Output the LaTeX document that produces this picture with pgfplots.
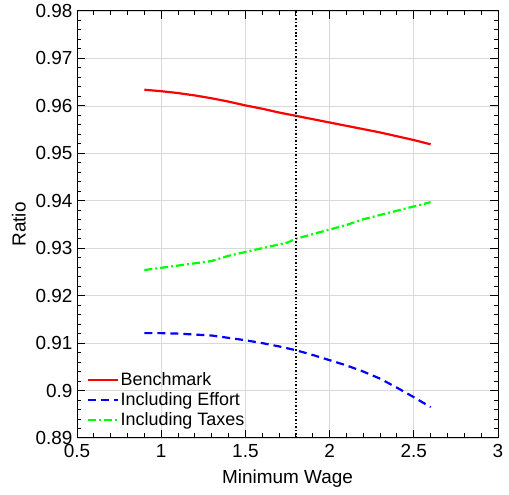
\documentclass[border=0pt]{standalone}
\usepackage{fontspec}
\setmainfont{Liberation Sans}
\usepackage{pgfplots}
\pgfplotsset{compat=1.18}
\begin{document}
\begin{tikzpicture}
\begin{axis}[
  scale only axis, width=421bp, height=427bp,
  xmin=0.5, xmax=3, ymin=0.89, ymax=0.98,
  xtick={0.5,1,1.5,2,2.5,3},
  ytick={0.89,0.9,0.91,0.92,0.93,0.94,0.95,0.96,0.97,0.98},
  minor x tick num=4, minor y tick num=4,
  tick align=inside,
  major tick length=8bp, minor tick length=4.5bp,
  tick style={black, line width=1pt},
  axis line style={black, line width=1pt},
  grid=major,
  major grid style={gray!30, line width=0.7pt},
  /pgf/number format/assume math mode=true,
  yticklabel style={/pgf/number format/fixed, /pgf/number format/precision=2, xshift=-1bp},
  xticklabel style={/pgf/number format/fixed, yshift=-3bp},
  ticklabel style={font=\fontsize{19}{22}\selectfont},
  label style={font=\fontsize{19}{22}\selectfont},
  xlabel style={yshift=-5bp},
  ylabel style={yshift=3bp},
  xlabel={Minimum Wage}, ylabel={Ratio},
  legend style={draw=none, fill=none, at={(0.015,0.015)}, anchor=south west,
    font=\fontsize{18}{21}\selectfont, row sep=1.5pt},
  legend cell align=left,
  legend image code/.code={\draw[#1] (0bp,0bp) -- (30bp,0bp);},
]
\addplot[red, line width=2.2pt, line join=round] coordinates {
 (0.9,0.9634) (1.0,0.9631) (1.1,0.9627) (1.2,0.9622) (1.3,0.9616) (1.4,0.9609)
 (1.5,0.9601) (1.6,0.9594) (1.7,0.9586) (1.8,0.9579) (1.9,0.9572) (2.0,0.9565)
 (2.1,0.9558) (2.2,0.9551) (2.3,0.9544) (2.4,0.9536) (2.5,0.9528) (2.6,0.9519)};
\addlegendentry{Benchmark}
\addplot[blue, line width=2.2pt, dash pattern=on 8bp off 5bp] coordinates {
 (0.9,0.9121) (1.0,0.9121) (1.1,0.9120) (1.2,0.9118) (1.3,0.9116) (1.4,0.9111)
 (1.5,0.9106) (1.6,0.9100) (1.7,0.9093) (1.8,0.9085) (1.9,0.9075) (2.0,0.9064)
 (2.1,0.9053) (2.2,0.9040) (2.3,0.9025) (2.4,0.9006) (2.5,0.8986) (2.6,0.8965)};
\addlegendentry{Including Effort}
\addplot[green, line width=2.2pt, dash pattern=on 8bp off 3bp on 2bp off 3bp] coordinates {
 (0.9,0.9254) (1.3,0.9273) (1.4,0.9284) (1.75,0.9312) (1.8,0.9320)
 (2.1,0.9349) (2.2,0.9361) (2.6,0.9397)};
\addlegendentry{Including Taxes}
\addplot[black, line width=1.5pt, dotted, forget plot] coordinates {(1.8,0.89) (1.8,0.98)};
\end{axis}
\pgfresetboundingbox
\path[use as bounding box] ([shift={(-77bp,-57bp)}]current axis.south west) rectangle ([shift={(11bp,11bp)}]current axis.north east);
\end{tikzpicture}
\end{document}
